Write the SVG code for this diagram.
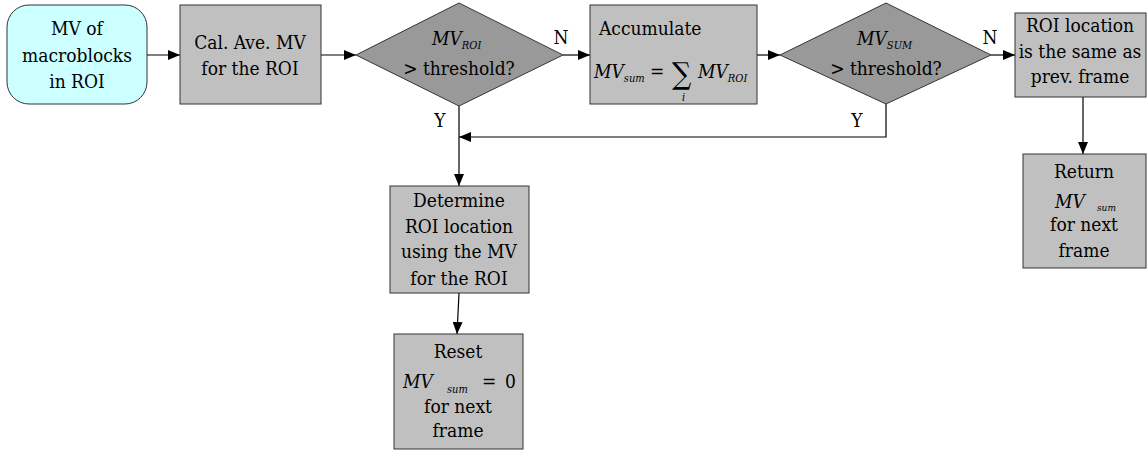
<svg xmlns="http://www.w3.org/2000/svg" width="1148" height="451" viewBox="0 0 1148 451">
<style>
text{font-family:"DejaVu Serif Condensed","DejaVu Serif",serif;font-stretch:condensed;font-size:19px;fill:#000}
.c{text-anchor:middle}
.i{font-style:italic}
.s{font-size:11px;font-style:italic}
.box{fill:#c0c0c0;stroke:#333;stroke-width:1}
.dia{fill:#999999;stroke:#333;stroke-width:1}
.con{fill:none;stroke:#000;stroke-width:1.2}
</style>
<defs>
<marker id="ah" markerWidth="12" markerHeight="10" refX="12" refY="5" orient="auto" markerUnits="userSpaceOnUse">
<path d="M0,0 L12,5 L0,10 Z" fill="#000"/>
</marker>
</defs>
<g id="connectors">
<line class="con" x1="147" y1="55" x2="180" y2="55" marker-end="url(#ah)"/>
<line class="con" x1="321" y1="55" x2="356" y2="55" marker-end="url(#ah)"/>
<line class="con" x1="563" y1="55" x2="590" y2="55" marker-end="url(#ah)"/>
<line class="con" x1="757" y1="55" x2="780" y2="55" marker-end="url(#ah)"/>
<line class="con" x1="991" y1="55" x2="1015" y2="55" marker-end="url(#ah)"/>
<line class="con" x1="1083" y1="97" x2="1083" y2="154" marker-end="url(#ah)"/>
<line class="con" x1="459" y1="106" x2="459" y2="186" marker-end="url(#ah)"/>
<polyline class="con" points="886,104 886,137 459,137" marker-end="url(#ah)"/>
<line class="con" x1="459" y1="293" x2="457" y2="334" marker-end="url(#ah)"/>
<text x="561" y="44" class="c">N</text>
<text x="990" y="44" class="c">N</text>
<text x="440" y="127" class="c">Y</text>
<text x="857" y="127" class="c">Y</text>
</g>
<g id="n1">
<rect x="7" y="5" width="140" height="99" rx="22" fill="#ccffff" stroke="#333"/>
<text x="77" y="35" class="c">MV of</text>
<text x="77" y="62" class="c">macroblocks</text>
<text x="77" y="88" class="c">in ROI</text>
</g>
<g id="n2">
<rect class="box" x="180" y="5" width="141" height="99"/>
<text x="250" y="49" class="c">Cal. Ave. MV</text>
<text x="250" y="75" class="c">for the ROI</text>
</g>
<g id="d1">
<polygon class="dia" points="356,55 459,3 563,55 459,106"/>
<text x="432" y="45" class="i">MV<tspan class="s" dy="4">ROI</tspan></text>
<text x="459" y="75" class="c">&gt; threshold?</text>
</g>
<g id="n3">
<rect class="box" x="590" y="5" width="167" height="99"/>
<text x="599" y="35">Accumulate</text>
<text x="594" y="78" class="i">MV<tspan class="s" dy="4">sum</tspan></text>
<text x="650" y="78">=</text>
<text x="672" y="84" style="font-size:30px">∑</text>
<text x="682" y="101" class="s">i</text>
<text x="698" y="78" class="i">MV<tspan class="s" dy="4">ROI</tspan></text>
</g>
<g id="d2">
<polygon class="dia" points="780,55 886,3 991,55 886,104"/>
<text x="857" y="45" class="i">MV<tspan class="s" dy="4">SUM</tspan></text>
<text x="886" y="75" class="c">&gt; threshold?</text>
</g>
<g id="n4">
<rect class="box" x="1015" y="13" width="131" height="84"/>
<text x="1080" y="32" class="c">ROI location</text>
<text x="1080" y="58" class="c">is the same as</text>
<text x="1080" y="83" class="c">prev. frame</text>
</g>
<g id="n5">
<rect class="box" x="1023" y="154" width="123" height="114"/>
<text x="1084" y="178" class="c">Return</text>
<text x="1055" y="208" class="i">MV</text>
<text x="1097" y="211" class="s" style="font-size:10px">sum</text>
<text x="1084" y="231" class="c">for next</text>
<text x="1084" y="257" class="c">frame</text>
</g>
<g id="n6">
<rect class="box" x="390" y="186" width="139" height="107"/>
<text x="459" y="207" class="c">Determine</text>
<text x="459" y="233" class="c">ROI location</text>
<text x="459" y="258" class="c">using the MV</text>
<text x="459" y="285" class="c">for the ROI</text>
</g>
<g id="n7">
<rect class="box" x="394" y="334" width="129" height="115"/>
<text x="458" y="358" class="c">Reset</text>
<text x="403" y="388" class="i">MV</text>
<text x="447" y="393" class="s">sum</text>
<text x="482" y="388">=</text>
<text x="505" y="388">0</text>
<text x="458" y="413" class="c">for next</text>
<text x="458" y="437" class="c">frame</text>
</g>
</svg>
